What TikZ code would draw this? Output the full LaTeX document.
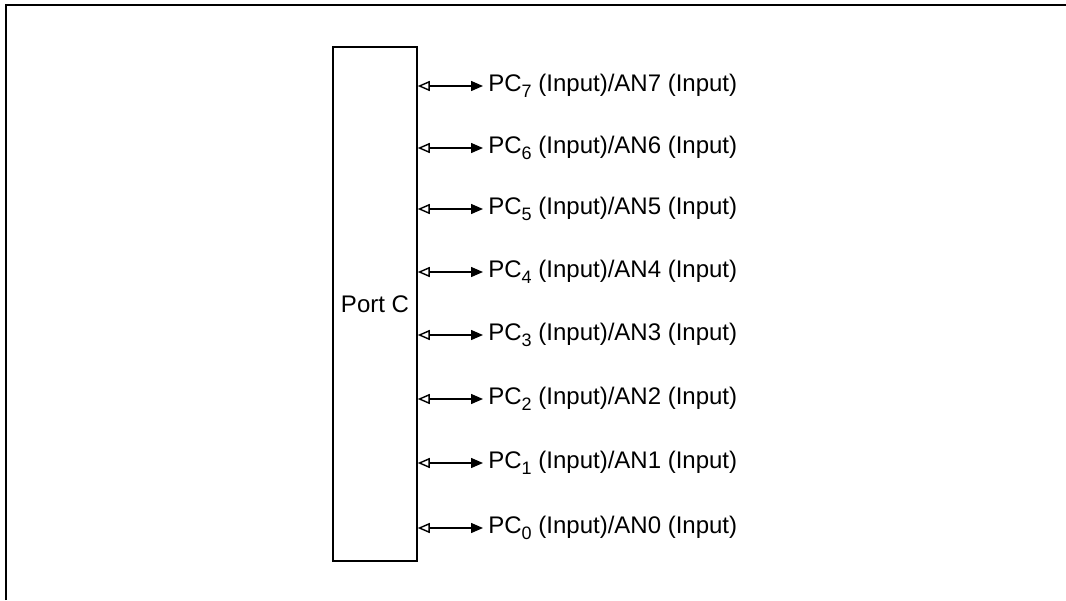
\documentclass[tikz,border=0pt]{standalone}
\usepackage{fontspec}
\setmainfont{Liberation Sans}
\usepackage{tikz}
\usetikzlibrary{arrows.meta, positioning}

\newcommand{\pcsub}[1]{PC\raisebox{-0.5ex}{\fontsize{9}{9}\selectfont #1}}

\begin{document}
\begin{tikzpicture}[
    x=0.5pt, y=-0.5pt,
    font=\fontsize{12}{14}\selectfont,
    port/.style={rectangle, draw=black, line width=0.75pt, minimum width=42pt, minimum height=257pt, inner sep=0pt},
    pin/.style={anchor=west, inner sep=0pt},
    link/.style={line width=0.7pt, shorten >=2.5pt, {Triangle[open, length=6pt, width=5pt]}-{Triangle[length=6pt, width=5pt]}}
]
\useasboundingbox (0,0) rectangle (1066,600);
\draw [line width=1pt] (6,600) -- (6,5) -- (1066,5);

\node (portc) [port] at (375,304) {Port C};

\node (pc7) [pin] at (488,86)  {\pcsub{7} (Input)/AN7 (Input)};
\node (pc6) [pin] at (488,148) {\pcsub{6} (Input)/AN6 (Input)};
\node (pc5) [pin] at (488,209) {\pcsub{5} (Input)/AN5 (Input)};
\node (pc4) [pin] at (488,272) {\pcsub{4} (Input)/AN4 (Input)};
\node (pc3) [pin] at (488,335) {\pcsub{3} (Input)/AN3 (Input)};
\node (pc2) [pin] at (488,399) {\pcsub{2} (Input)/AN2 (Input)};
\node (pc1) [pin] at (488,463) {\pcsub{1} (Input)/AN1 (Input)};
\node (pc0) [pin] at (488,528) {\pcsub{0} (Input)/AN0 (Input)};

\draw [link] (portc.east |- pc7.west) -- (pc7.west);
\draw [link] (portc.east |- pc6.west) -- (pc6.west);
\draw [link] (portc.east |- pc5.west) -- (pc5.west);
\draw [link] (portc.east |- pc4.west) -- (pc4.west);
\draw [link] (portc.east |- pc3.west) -- (pc3.west);
\draw [link] (portc.east |- pc2.west) -- (pc2.west);
\draw [link] (portc.east |- pc1.west) -- (pc1.west);
\draw [link] (portc.east |- pc0.west) -- (pc0.west);

\end{tikzpicture}
\end{document}
